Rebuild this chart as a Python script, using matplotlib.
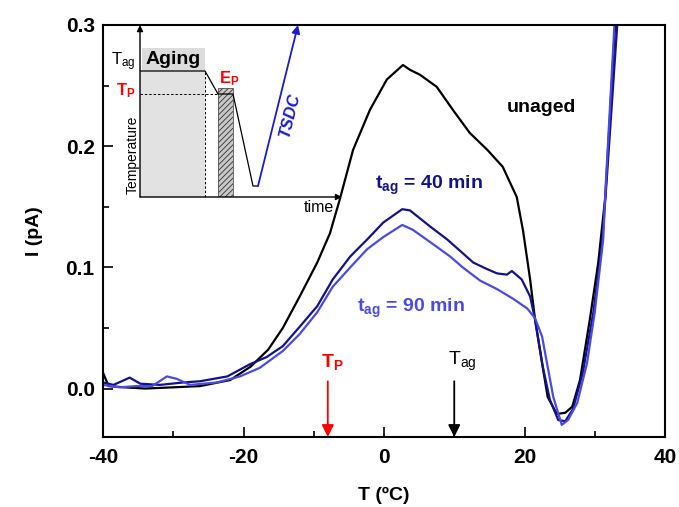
import matplotlib
matplotlib.use("Agg")
import matplotlib.pyplot as plt
from matplotlib.patches import Rectangle
from matplotlib.ticker import MultipleLocator

plt.rcParams['font.family'] = ['Liberation Sans', 'DejaVu Sans']
plt.rcParams['mathtext.fontset'] = 'custom'
plt.rcParams['mathtext.rm'] = 'Liberation Sans'
plt.rcParams['mathtext.bf'] = 'Liberation Sans:bold'
plt.rcParams['mathtext.it'] = 'Liberation Sans:italic'
plt.rcParams['hatch.linewidth'] = 0.6
plt.rcParams['axes.unicode_minus'] = False

# ---------------- data ----------------
T_unaged = [-40, -39.2, -37, -34, -30, -26.2, -21.9, -19, -16.5, -14.4, -12, -9.5, -7.7,
            -6.3, -4.4, -2, 0.4, 2.7, 3.7, 5.1, 7.5, 9.8, 12.2, 14.7, 16.9, 18.9, 19.8,
            20.8, 21.5, 22.5, 23.3, 24.6, 25.8, 26.8, 27.9, 29.3, 30.5, 31.5, 32.9]
I_unaged = [0.013, 0.002, 0.001, 0.0, 0.001, 0.002, 0.007, 0.018, 0.032, 0.05, 0.076,
            0.104, 0.128, 0.156, 0.197, 0.23, 0.255, 0.267, 0.263, 0.259, 0.249, 0.23,
            0.211, 0.197, 0.183, 0.158, 0.13, 0.09, 0.057, 0.021, -0.007, -0.021, -0.02,
            -0.015, 0.007, 0.057, 0.104, 0.158, 0.3]

T_40 = [-40, -38.5, -36.2, -34.7, -31.9, -28.6, -26.2, -22.3, -19.1, -16.7, -14.4, -12,
        -9.5, -7.3, -4.8, -2.4, -0.1, 2.6, 3.7, 6.5, 9, 12.7, 14.5, 16.1, 17.5, 18.2,
        19.6, 20.8, 21.5, 22.6, 23.6, 24.8, 25.8, 26.9, 28.3, 29.8, 31, 31.7, 33.2]
I_40 = [0.005, 0.003, 0.009, 0.004, 0.003, 0.005, 0.006, 0.01, 0.02, 0.026, 0.035, 0.051,
        0.068, 0.09, 0.109, 0.123, 0.137, 0.148, 0.147, 0.134, 0.123, 0.104, 0.099, 0.095,
        0.094, 0.097, 0.09, 0.076, 0.057, 0.018, -0.009, -0.026, -0.027, -0.017, 0.013,
        0.063, 0.117, 0.172, 0.3]

T_90 = [-40, -37.6, -35.3, -33, -30.9, -29.5, -27.6, -23.8, -20.5, -17.7, -14.4, -12,
        -9.5, -7.3, -4.8, -2.4, -0.1, 2.6, 4.1, 7.5, 9.4, 11.2, 13.7, 16.1, 18.4, 20.4,
        21.5, 22.5, 23.2, 24.1, 25.3, 26.2, 27.5, 28.9, 30, 31.2, 31.6, 32.8]
I_90 = [0.003, 0.001, 0.002, 0.002, 0.01, 0.008, 0.003, 0.005, 0.01, 0.017, 0.031, 0.045,
        0.063, 0.084, 0.1, 0.115, 0.125, 0.135, 0.131, 0.117, 0.109, 0.1, 0.089, 0.082,
        0.074, 0.066, 0.058, 0.043, 0.021, -0.007, -0.03, -0.026, -0.012, 0.021, 0.063,
        0.123, 0.172, 0.3]

T_P = -8      # poling temperature marker
T_AG = 10     # aging temperature marker

x_ticks = [-40, -20, 0, 20, 40]
y_ticks = [0.0, 0.1, 0.2, 0.3]
y_ticklabels = ['0.0', '0.1', '0.2', '0.3']

# schematic (inset) profile in arbitrary time / temperature units
sched_time = [0, 65, 78, 93, 113, 118]
sched_temp = [126, 126, 103, 103, 11, 11]
tsdc_time = [118, 158]
tsdc_temp = [11, 172]

# ---------------- figure ----------------
W, H = 679, 507
fig = plt.figure(figsize=(W / 100, H / 100), dpi=100)
ax = fig.add_axes([103 / W, 1 - 437 / H, (665 - 103) / W, (437 - 25) / H])

c_dark = '#12128a'
c_light = '#4a4ae4'

ax.plot(T_unaged, I_unaged, color='black', lw=1.6)
ax.plot(T_40, I_40, color=c_dark, lw=1.6)
ax.plot(T_90, I_90, color=c_light, lw=1.6)

ax.set_xlim(-40, 40)
ax.set_ylim(-0.04, 0.3)
ax.set_xticks(x_ticks)
ax.set_yticks(y_ticks)
ax.set_yticklabels(y_ticklabels)
ax.xaxis.set_minor_locator(MultipleLocator(10))
ax.yaxis.set_minor_locator(MultipleLocator(0.05))
ax.tick_params(which='both', direction='in', top=False, right=False, width=1.2)
ax.tick_params(which='major', length=7, labelsize=15, pad=6)
ax.tick_params(which='minor', length=4)
ax.tick_params(axis='x', pad=8)
for lab in ax.get_xticklabels() + ax.get_yticklabels():
    lab.set_fontweight('bold')
for sp in ax.spines.values():
    sp.set_linewidth(1.5)

ax.set_xlabel('T (ºC)', fontsize=14, fontweight='bold', labelpad=14)
ax.set_ylabel('I (pA)', fontsize=14, fontweight='bold', labelpad=16)

# curve labels
ax.text(17.5, 0.232, 'unaged', fontsize=14, fontweight='bold', color='black',
        ha='left', va='center')
ax.text(-1.3, 0.168, r'$\mathbf{t_{ag}}$ = 40 min', fontsize=14, fontweight='bold',
        color=c_dark, ha='left', va='center')
ax.text(-3.8, 0.066, r'$\mathbf{t_{ag}}$ = 90 min', fontsize=14, fontweight='bold',
        color=c_light, ha='left', va='center')

# temperature markers
ax.annotate('', xy=(T_P, -0.04), xytext=(T_P, 0.006),
            arrowprops=dict(arrowstyle='-|>', color='red', lw=1.3, mutation_scale=18,
                            shrinkA=0, shrinkB=0))
ax.annotate('', xy=(T_AG, -0.04), xytext=(T_AG, 0.006),
            arrowprops=dict(arrowstyle='-|>', color='black', lw=1.3, mutation_scale=18,
                            shrinkA=0, shrinkB=0))
ax.text(T_P + 0.6, 0.022, r'$\mathbf{T_P}$', fontsize=14, color='red', ha='center',
        va='center')
ax.text(T_AG + 1.1, 0.022, r'T$_{\mathrm{ag}}$', fontsize=14, color='black', ha='center',
        va='center')

# ---------------- inset schematic ----------------
ins = fig.add_axes([140 / W, 1 - 197 / H, 202 / W, 172 / H])
ins.set_xlim(0, 202)
ins.set_ylim(0, 172)
ins.axis('off')

ins.add_patch(Rectangle((0, 0), sched_time[1], sched_temp[1], facecolor='#e2e2e2',
                        edgecolor='none', zorder=1))
ins.add_patch(Rectangle((2, sched_temp[1]), sched_time[1] - 2, 23, facecolor='#dcdcdc',
                        edgecolor='none', zorder=1))
ins.add_patch(Rectangle((sched_time[2], 0), sched_time[3] - sched_time[2], 109,
                        facecolor='#c8c8c8', edgecolor='#303030', hatch='//////',
                        lw=0, zorder=1))
ins.add_patch(Rectangle((sched_time[2], 0), sched_time[3] - sched_time[2], 109,
                        facecolor='none', edgecolor='#555555', lw=0.6, zorder=2))
ins.plot([sched_time[1], sched_time[1]], [0, sched_temp[1]], color='black', lw=0.7,
         ls=(0, (2.5, 2)), zorder=3)
ins.plot([0, sched_time[2]], [sched_temp[2], sched_temp[2]], color='black', lw=0.7,
         ls=(0, (2.5, 2)), zorder=3)
ins.plot(sched_time, sched_temp, color='black', lw=0.9, zorder=4)
ins.annotate('', xy=(tsdc_time[1], tsdc_temp[1]), xytext=(tsdc_time[0], tsdc_temp[0]),
             arrowprops=dict(arrowstyle='-|>', color='#1a1ad0', lw=1.3, mutation_scale=12,
                             shrinkA=0, shrinkB=0), zorder=4)
ins.annotate('', xy=(0, 172), xytext=(0, 0),
             arrowprops=dict(arrowstyle='-|>', color='black', lw=1.0, mutation_scale=9,
                             shrinkA=0, shrinkB=0))
ins.annotate('', xy=(202, 0), xytext=(0, 0),
             arrowprops=dict(arrowstyle='-|>', color='black', lw=1.0, mutation_scale=9,
                             shrinkA=0, shrinkB=0))

ins.text(33, 137, 'Aging', fontsize=14, fontweight='bold', ha='center', va='center',
         zorder=5)
ins.text(-4, 135, r'T$_{\mathrm{ag}}$', fontsize=12, ha='right', va='center')
ins.text(-4, 106, r'$\mathbf{T_P}$', fontsize=12, color='red', ha='right', va='center')
ins.text(89, 118, r'$\mathbf{E_P}$', fontsize=12, color='red', ha='center', va='center')
ins.text(-7, 42, 'Temperature', fontsize=10, rotation=90, ha='center', va='center')
ins.text(179, -10, 'time', fontsize=11.5, ha='center', va='center')
ins.text(150, 82, 'TSDC', fontsize=12, fontweight='bold', fontstyle='italic',
         color='#1a1ad0', rotation=76, ha='center', va='center')

fig.savefig('out.png', dpi=100)
